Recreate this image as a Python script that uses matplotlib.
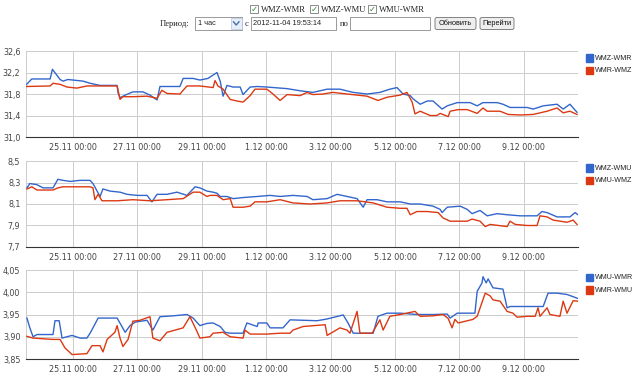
import matplotlib
matplotlib.use('Agg')
import matplotlib.pyplot as plt
from matplotlib.patches import Rectangle, FancyBboxPatch

# x values: days since 23.11.2012 00:00
blue1_x = [0.56, 0.72, 1.29, 1.36, 1.60, 1.69, 1.84, 2.31, 2.53, 2.84, 3.37, 3.40, 3.46, 3.62, 3.86, 4.17, 4.39, 4.61,
           4.70, 5.32, 5.42, 5.73, 5.94, 6.19, 6.47, 6.57, 6.66, 6.78, 6.97, 7.19, 7.28, 7.50, 7.72, 8.02, 8.65, 9.05,
           9.45, 9.89, 10.29, 10.70, 11.13, 11.53, 11.84, 12.06, 12.25, 12.47, 12.56, 12.78, 13.00, 13.18, 13.46, 13.62,
           13.93, 14.33, 14.55, 14.73, 15.17, 15.35, 15.57, 16.10, 16.29, 16.60, 17.03, 17.22, 17.43, 17.65]
blue1_y = [31.98, 32.08, 32.08, 32.26, 32.07, 32.04, 32.07, 32.04, 32.00, 31.96, 31.96, 31.82, 31.73, 31.78, 31.84, 31.84,
           31.78, 31.69, 31.94, 31.94, 32.09, 32.09, 32.06, 32.09, 32.20, 32.04, 31.76, 31.96, 31.93, 31.93, 31.79, 31.93,
           31.94, 31.93, 31.90, 31.86, 31.83, 31.89, 31.89, 31.83, 31.80, 31.83, 31.89, 31.92, 31.80, 31.77, 31.71, 31.61,
           31.67, 31.67, 31.52, 31.58, 31.64, 31.64, 31.58, 31.64, 31.64, 31.61, 31.55, 31.55, 31.52, 31.58, 31.61, 31.52,
           31.61, 31.46]
red1_x = [0.56, 1.29, 1.38, 1.60, 1.81, 2.12, 2.43, 2.84, 3.37, 3.46, 3.55, 3.86, 4.30, 4.61, 4.76, 4.92, 5.32, 5.54,
          5.94, 6.35, 6.41, 6.50, 6.66, 6.88, 7.09, 7.28, 7.50, 7.65, 8.02, 8.21, 8.43, 8.65, 9.05, 9.27, 9.45, 9.76,
          10.07, 10.51, 11.13, 11.47, 11.75, 12.16, 12.37, 12.53, 12.62, 12.78, 13.09, 13.30, 13.40, 13.65, 13.71, 13.96,
          14.24, 14.55, 14.73, 14.86, 15.26, 15.51, 15.88, 16.29, 16.72, 17.03, 17.22, 17.43, 17.65]
red1_y = [31.94, 31.95, 32.00, 31.98, 31.93, 31.91, 31.95, 31.95, 31.95, 31.70, 31.75, 31.75, 31.76, 31.72, 31.87, 31.81,
          31.80, 31.95, 31.95, 31.92, 32.05, 31.95, 31.89, 31.70, 31.67, 31.65, 31.77, 31.89, 31.89, 31.80, 31.68, 31.79,
          31.77, 31.83, 31.79, 31.80, 31.83, 31.80, 31.76, 31.68, 31.74, 31.78, 31.83, 31.65, 31.43, 31.48, 31.40, 31.40,
          31.44, 31.38, 31.48, 31.51, 31.51, 31.44, 31.54, 31.48, 31.48, 31.42, 31.41, 31.42, 31.48, 31.54, 31.45, 31.48,
          31.42]

blue2_x = [0.57, 0.66, 0.88, 1.07, 1.38, 1.53, 1.69, 1.91, 2.22, 2.53, 2.62, 2.84, 2.93, 3.15, 3.46, 3.68, 3.99, 4.30,
           4.45, 4.61, 4.92, 5.23, 5.54, 5.79, 5.94, 6.16, 6.35, 6.47, 6.57, 6.78, 6.97, 7.28, 7.72, 8.12, 8.43, 8.83,
           9.27, 9.45, 9.89, 10.20, 10.51, 10.82, 11.01, 11.13, 11.44, 11.75, 12.16, 12.47, 12.78, 13.18, 13.40, 13.46,
           13.62, 14.02, 14.24, 14.39, 14.64, 14.86, 15.17, 15.48, 15.88, 16.41, 16.56, 16.72, 17.03, 17.43, 17.59, 17.68]
blue2_y = [8.25, 8.29, 8.28, 8.25, 8.25, 8.33, 8.32, 8.31, 8.32, 8.32, 8.29, 8.17, 8.24, 8.22, 8.21, 8.19, 8.18, 8.18,
           8.12, 8.19, 8.19, 8.21, 8.18, 8.26, 8.25, 8.22, 8.21, 8.20, 8.17, 8.17, 8.15, 8.16, 8.17, 8.18, 8.17, 8.18,
           8.17, 8.14, 8.15, 8.19, 8.17, 8.15, 8.07, 8.14, 8.14, 8.12, 8.12, 8.10, 8.10, 8.08, 8.05, 8.02, 8.07, 8.08,
           8.05, 8.01, 8.04, 7.99, 8.01, 8.00, 7.99, 7.99, 8.03, 8.02, 7.98, 7.98, 8.02, 8.00]
red2_x = [0.57, 0.72, 0.88, 1.38, 1.53, 1.69, 2.53, 2.62, 2.68, 2.78, 2.90, 3.37, 3.86, 4.39, 4.92, 5.42, 5.73, 5.94,
          6.16, 6.25, 6.47, 6.66, 6.88, 6.97, 7.28, 7.50, 7.65, 8.02, 8.43, 8.83, 9.36, 9.89, 10.29, 10.82, 11.32, 11.75,
          12.16, 12.37, 12.47, 12.68, 13.00, 13.34, 13.49, 13.71, 14.24, 14.39, 14.64, 14.80, 14.95, 15.48, 15.57, 15.73,
          16.10, 16.41, 16.50, 16.72, 16.91, 17.34, 17.53, 17.65]
red2_y = [8.24, 8.26, 8.23, 8.23, 8.25, 8.26, 8.26, 8.25, 8.14, 8.19, 8.13, 8.13, 8.14, 8.13, 8.14, 8.15, 8.21, 8.21,
          8.17, 8.18, 8.18, 8.14, 8.15, 8.07, 8.07, 8.08, 8.12, 8.12, 8.14, 8.11, 8.10, 8.11, 8.13, 8.13, 8.11, 8.07,
          8.06, 8.06, 8.00, 8.03, 8.03, 8.02, 7.97, 7.94, 7.94, 7.96, 7.94, 7.89, 7.91, 7.89, 7.94, 7.91, 7.90, 7.90,
          7.99, 7.98, 7.95, 7.93, 7.95, 7.91]

blue3_x = [0.57, 0.66, 0.76, 0.88, 1.38, 1.44, 1.57, 1.66, 1.81, 1.97, 2.22, 2.43, 2.53, 2.62, 2.78, 3.37, 3.62, 3.77,
           3.93, 4.30, 4.48, 4.70, 5.11, 5.54, 5.73, 5.94, 6.16, 6.35, 6.57, 6.72, 6.88, 7.28, 7.40, 7.72, 7.75, 8.02,
           8.12, 8.52, 8.74, 9.58, 9.89, 10.39, 10.54, 10.70, 11.32, 11.47, 11.75, 12.16, 12.68, 13.18, 13.62, 13.71,
           13.93, 14.48, 14.55, 14.70, 14.73, 14.83, 14.89, 15.04, 15.35, 15.48, 15.57, 16.60, 16.75, 17.03, 17.34, 17.68]
blue3_y = [3.942, 3.920, 3.900, 3.905, 3.905, 3.936, 3.936, 3.897, 3.900, 3.903, 3.897, 3.897, 3.908, 3.920, 3.942,
           3.942, 3.910, 3.925, 3.933, 3.937, 3.915, 3.945, 3.947, 3.950, 3.942, 3.925, 3.930, 3.931, 3.923, 3.910,
           3.908, 3.908, 3.931, 3.923, 3.931, 3.931, 3.920, 3.920, 3.938, 3.936, 3.940, 3.949, 3.931, 3.908, 3.908,
           3.946, 3.953, 3.953, 3.950, 3.950, 3.951, 3.942, 3.953, 3.953, 4.002, 4.021, 4.035, 4.021, 4.030, 4.010,
           4.007, 3.965, 3.968, 3.968, 3.998, 3.998, 3.995, 3.986]
red3_x = [0.57, 0.76, 1.38, 1.60, 1.75, 1.97, 2.43, 2.59, 2.84, 2.93, 3.06, 3.30, 3.37, 3.46, 3.55, 3.71, 3.86, 4.08,
          4.39, 4.48, 4.70, 4.92, 5.42, 5.63, 5.85, 5.94, 6.25, 6.35, 6.66, 6.88, 7.28, 7.34, 7.50, 8.02, 8.43, 8.74,
          8.83, 9.14, 9.83, 9.89, 10.29, 10.51, 10.60, 10.82, 10.91, 11.29, 11.44, 11.53, 11.63, 11.84, 12.16, 12.62,
          12.78, 13.18, 13.49, 13.65, 13.77, 13.86, 13.96, 14.42, 14.55, 14.80, 14.95, 15.04, 15.26, 15.48, 15.66, 15.79,
          16.10, 16.35, 16.44, 16.50, 16.72, 16.81, 17.12, 17.22, 17.34, 17.53, 17.68]
red3_y = [3.901, 3.897, 3.894, 3.894, 3.875, 3.860, 3.862, 3.880, 3.880, 3.866, 3.894, 3.910, 3.925, 3.897, 3.878,
          3.894, 3.935, 3.937, 3.945, 3.897, 3.891, 3.910, 3.920, 3.945, 3.912, 3.897, 3.900, 3.908, 3.910, 3.900,
          3.897, 3.915, 3.906, 3.906, 3.908, 3.908, 3.915, 3.923, 3.927, 3.903, 3.920, 3.915, 3.908, 3.957, 3.908,
          3.908, 3.927, 3.938, 3.915, 3.946, 3.950, 3.957, 3.946, 3.947, 3.950, 3.941, 3.920, 3.939, 3.931, 3.939,
          3.946, 3.998, 3.992, 3.983, 3.980, 3.957, 3.953, 3.944, 3.946, 3.946, 3.965, 3.946, 3.965, 3.950, 3.946,
          3.980, 3.953, 3.981, 3.980]

names1 = ['WMZ-WMR', 'WMR-WMZ']
names2 = ['WMZ-WMU', 'WMU-WMZ']
names3 = ['WMU-WMR', 'WMR-WMU']

yticks1 = [31.0, 31.4, 31.8, 32.2, 32.6]
yticks2 = [7.7, 7.9, 8.1, 8.3, 8.5]
yticks3 = [3.85, 3.90, 3.95, 4.00, 4.05]
ylabels1 = ['31,0', '31,4', '31,8', '32,2', '32,6']
ylabels2 = ['7,7', '7,9', '8,1', '8,3', '8,5']
ylabels3 = ['3,85', '3,90', '3,95', '4,00', '4,05']

xticks = [2, 4, 6, 8, 10, 12, 14, 16]
xlabels = ['25.11 00:00', '27.11 00:00', '29.11 00:00', '1.12 00:00',
           '3.12 00:00', '5.12 00:00', '7.12 00:00', '9.12 00:00']
xmin, xmax = 0.54, 17.68

checks = ['WMZ-WMR', 'WMZ-WMU', 'WMU-WMR']

BLUE = '#3366cc'
RED = '#dc3912'

fig = plt.figure(figsize=(6.4, 3.76), dpi=100)
fig.patch.set_facecolor('white')

panels = [
    ([0.0406, 0.6356, 0.8625, 0.2287], blue1_x, blue1_y, red1_x, red1_y, names1, yticks1, ylabels1),
    ([0.0406, 0.3431, 0.8625, 0.2287], blue2_x, blue2_y, red2_x, red2_y, names2, yticks2, ylabels2),
    ([0.0406, 0.0452, 0.8625, 0.2367], blue3_x, blue3_y, red3_x, red3_y, names3, yticks3, ylabels3),
]

for rect, bx, by, rx, ry, names, yt, yl in panels:
    ax = fig.add_axes(rect)
    ax.plot(bx, by, color=BLUE, lw=1.0, zorder=3)
    ax.plot(rx, ry, color=RED, lw=1.0, zorder=3)
    ax.set_xlim(xmin, xmax)
    ax.set_ylim(yt[0], yt[-1])
    ax.set_yticks(yt)
    ax.set_yticklabels(yl)
    ax.set_xticks(xticks)
    ax.set_xticklabels(xlabels)
    ax.tick_params(length=0, labelsize=5.8, colors='#444444', pad=4)
    ax.grid(True, color='#cccccc', lw=0.7)
    for s in ['top', 'right']:
        ax.spines[s].set_visible(False)
    ax.spines['left'].set_color('#cccccc')
    ax.spines['left'].set_linewidth(0.7)
    ax.spines['bottom'].set_color('#333333')
    ax.spines['bottom'].set_linewidth(0.8)
    # legend squares on the right
    for i, (nm, col) in enumerate(zip(names, [BLUE, RED])):
        yy = 0.96 - i * 0.145
        ax.add_patch(Rectangle((1.0145, yy - 0.085), 0.0135, 0.085, transform=ax.transAxes,
                               color=col, clip_on=False))
        ax.text(1.031, yy - 0.042, nm, transform=ax.transAxes, fontsize=5.1,
                color='#222222', va='center', ha='left', family='Liberation Sans')

# header form, drawn in pixel coordinates
hd = fig.add_axes([0, 0, 1, 1], zorder=-1)
hd.set_xlim(0, 640)
hd.set_ylim(376, 0)
hd.axis('off')

cx = [250, 310, 368]
for x0, label in zip(cx, checks):
    hd.add_patch(Rectangle((x0, 5), 8, 8, fc='white', ec='#7a7a7a', lw=0.6))
    hd.text(x0 + 4, 9.3, '\u2713', fontsize=6, color='#2c8a2c', ha='center', va='center',
            family='DejaVu Sans', fontweight='bold')
    hd.text(x0 + 11, 9.5, label, fontsize=6.1, ha='left', va='center',
            family='Liberation Serif', color='#222222')

hd.text(160, 23.5, 'Период:', fontsize=6.1, ha='left', va='center', family='Liberation Serif',
        color='#222222')
hd.add_patch(Rectangle((195, 17), 47, 13, fc='white', ec='#8a8a8a', lw=0.6))
hd.text(198, 23.5, '1 час', fontsize=5.3, ha='left', va='center', family='Liberation Sans', color='#222222')
hd.add_patch(Rectangle((231, 18), 10.5, 11, fc='#e6eefa', ec='#b5c5e0', lw=0.5))
hd.plot([233.5, 236.2, 239], [21.8, 25, 21.8], color='#4a6ea9', lw=1.0)
hd.text(245, 23.5, 'с', fontsize=6.1, ha='left', va='center', family='Liberation Serif', color='#222222')
hd.add_patch(Rectangle((251, 17), 85, 13, fc='white', ec='#8a8a8a', lw=0.6))
hd.text(253, 23.5, '2012-11-04 19:53:14', fontsize=5.3, ha='left', va='center', family='Liberation Sans',
        color='#222222')
hd.text(340, 23.5, 'по', fontsize=6.1, ha='left', va='center', family='Liberation Serif', color='#222222')
hd.add_patch(Rectangle((350, 17), 80, 13, fc='white', ec='#8a8a8a', lw=0.6))
for bx0, bw, btxt in [(435, 41, 'Обновить'), (480, 34, 'Перейти')]:
    hd.add_patch(FancyBboxPatch((bx0, 17.5), bw, 12, boxstyle='round,pad=0,rounding_size=2',
                                fc='#eeeeee', ec='#707070', lw=0.6))
    hd.text(bx0 + bw / 2, 23.7, btxt, fontsize=5.3, ha='center', va='center',
            family='Liberation Sans', color='#111111')

fig.savefig('out.png', dpi=100)
